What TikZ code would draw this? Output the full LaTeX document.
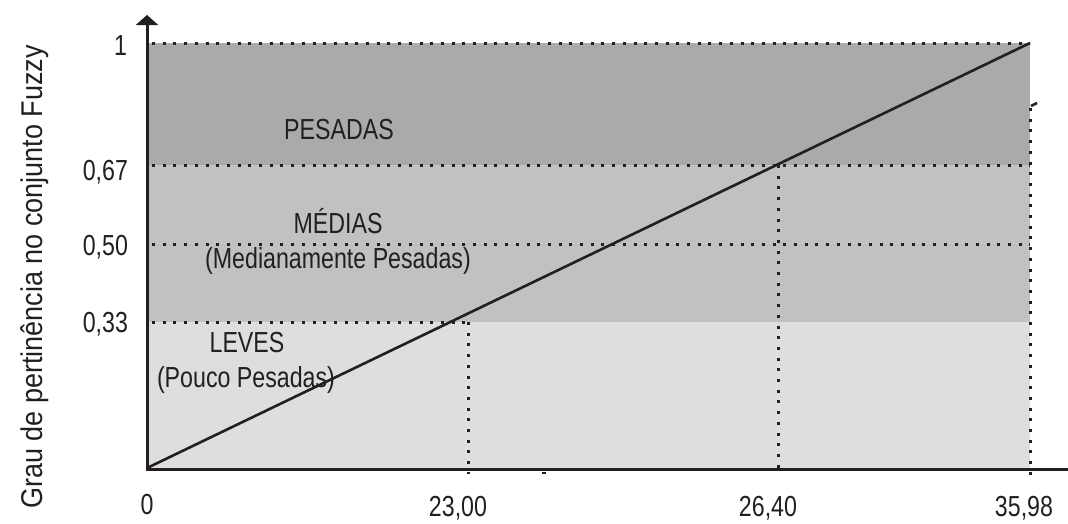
\documentclass[tikz,border=0pt]{standalone}
\usepackage{fontspec}
\setmainfont[FakeStretch=0.8]{Liberation Sans}
\newfontfamily\titlefont[FakeStretch=0.9]{Liberation Sans}
\usetikzlibrary{arrows.meta}
\definecolor{darkband}{HTML}{AAAAAA}
\definecolor{midband}{HTML}{C1C1C1}
\definecolor{lightband}{HTML}{DEDEDE}
\definecolor{ink}{HTML}{231F20}
\begin{document}
\begin{tikzpicture}[x=1pt,y=-1pt,
  lbl/.style={inner sep=0pt,outer sep=0pt,text=ink,font=\fontsize{29}{31}\selectfont,anchor=base},
  dotline/.style={draw=ink,line width=3pt,dash pattern=on 3pt off 7.7pt},
  axis/.style={draw=ink,line width=3pt},
  curve/.style={draw=ink,line width=2.6pt}]
\useasboundingbox (0,0) rectangle (1068,523);
% coordinates
\coordinate (O) at (147,468);
\coordinate (Top) at (1030,43);
% bands
\fill[darkband] (147,43) rectangle (1030,165);
\fill[midband] (147,165) rectangle (1030,322);
\fill[lightband] (147,322) rectangle (1030,468);
% dotted guides
\draw[dotline] (152,43) -- (1030,43);
\draw[dotline] (152,165) -- (1030,165);
\draw[dotline] (152,244) -- (1030,244);
\draw[dotline] (152,322) -- (468,322);
\coordinate (v1t) at (468,322); \coordinate (v1b) at (468,474);
\coordinate (v2t) at (778,165); \coordinate (v2b) at (778,474);
\coordinate (v3t) at (1030,108); \coordinate (v3b) at (1030,476);
\draw[dotline] (v1t) -- (v1b);
\draw[dotline] (v2t) -- (v2b);
\draw[dotline] (v3t) -- (v3b);
% stray marks
\coordinate (s1) at (1031,106); \coordinate (s2) at (1037,103);
\draw[ink,line width=2.5pt] (s1) -- (s2);
\coordinate (s3) at (542,473); \coordinate (s4) at (546,473);
\draw[ink,line width=1.5pt] (s3) -- (s4);
% axes
\coordinate (xend) at (1068,469);
\coordinate (ytip) at (147,15);
\draw[axis] (145.5,469) -- (xend);
\draw[axis,-{Triangle[length=10pt,width=22pt]}] (147,470.5) -- (ytip);
% membership line
\draw[curve] (O) -- (Top);
% region labels
\node[lbl] (pes) at (339,139) {PESADAS};
\node[lbl] (med) at (338,233) {MÉDIAS};
\node[lbl] (med2) at (338,268) {(Medianamente Pesadas)};
\node[lbl] (lev) at (247,352) {LEVES};
\node[lbl] (lev2) at (246,387) {(Pouco Pesadas)};
% x tick labels
\node[lbl] (x0) at (147,514) {0};
\node[lbl] (x1) at (458,516) {23,00};
\node[lbl] (x2) at (768,516) {26,40};
\node[lbl] (x3) at (1024,516) {35,98};
% y tick labels
\node[lbl,anchor=base east] (y1) at (127,55) {1};
\node[lbl,anchor=base east] (y2) at (128,180) {0,67};
\node[lbl,anchor=base east] (y3) at (128,255) {0,50};
\node[lbl,anchor=base east] (y4) at (128,332) {0,33};
% axis title
\node[lbl,rotate=90,font=\titlefont\fontsize{30}{32}\selectfont] (ytitle) at (42,277) {Grau de pertinência no conjunto Fuzzy};
\end{tikzpicture}
\end{document}
